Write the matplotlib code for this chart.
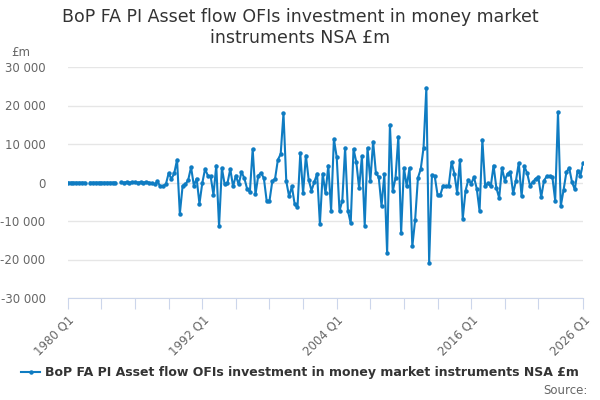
import matplotlib
matplotlib.use("Agg")
import matplotlib.pyplot as plt
import matplotlib.ticker as ticker
import numpy as np

# quarterly series, 1980 Q1 .. 2026 Q1, £m
start_year = 1980
nan = np.nan
values = [
    0, 0, 0, 0, 0, 0, 0, nan,
    0, 0, 0, 0, 0, 0, 0, 0, 0, 0, nan,
    100, 0, 100, 0, 100, 100, 0, 100, 0, 100, 0,
    -200, -500, 300, -1000, -900, -500, 2400, 900, 2400, 5900, -8100,
    -800, -500, 700, 4000, -800, 1000, -5500, -200, 3500, 1800,
    1600, -3200, 4400, -11400, 3800, -500, -200, 3500, -1000, 1800,
    -500, 2700, 1200, -1600, -2500, 8700, -3100, 1800, 2500, 1100,
    -4800, -4800, 300, 1000, 5900, 7400, 18000, 300, -3600, -1000,
    -5700, -6400, 7600, -2800, 7000, 700, -2100, 100, 2300, -10700,
    2300, -2800, 4400, -7300, 11300, 6600, -7400, -4700, 9000, -7300,
    -10600, 8700, 5300, -1500, 6800, -11200, 9000, 300, 10600, 2400,
    1400, -6100, 2100, -18400, 15000, -2300, 1200, 11900, -13100, 3800,
    -1000, 3800, -16600, -9700, 1200, 3500, 9000, 24600, -20800, 2000,
    1600, -3200, -3200, -800, -1000, -800, 5300, 2300, -2700, 5900,
    -9400, -2100, 700, -300, 1400, -1600, -7400, 11100, -1000, -200,
    -1000, 4400, -1400, -4000, 3800, 500, 2300, 2700, -2800, 500,
    5100, -3600, 4200, 2400, -800, 100, 1000, 1400, -3800, 500,
    1600, 1600, 1400, -4700, 18300, -6100, -1900, 2700, 3800, 100,
    -1800, 3100, 1800, 5100,
]
quarters = ["%d Q%d" % (start_year + i // 4, i % 4 + 1) for i in range(len(values))]
series_name = "BoP FA PI Asset flow OFIs investment in money market instruments NSA £m"
title = "BoP FA PI Asset flow OFIs investment in money market\ninstruments NSA £m"

blue = "#0f7cc2"
grey = "#666666"

fig = plt.figure(figsize=(6, 4), dpi=100)
ax = fig.add_axes([0.113, 0.255, 0.859, 0.5775])

x = np.arange(len(values))
ax.plot(x, values, color=blue, linewidth=1.5, marker="o", markersize=2.2,
        label=series_name)

ax.set_xlim(0, len(values) - 1)
ax.set_ylim(-30000, 30000)
ax.yaxis.set_major_locator(ticker.MultipleLocator(10000))
ax.yaxis.set_major_formatter(ticker.FuncFormatter(
    lambda v, p: "{:,}".format(int(v)).replace(",", " ")))
ax.grid(axis="y", color="#e6e6e6", linewidth=1)
ax.set_axisbelow(True)

xt = list(range(0, len(values) - 12, 12)) + [len(values) - 1]
ax.set_xticks(xt)
ax.set_xticklabels([quarters[i] if (i % 48 == 0 or i == len(values) - 1) else "" for i in xt])
ax.tick_params(axis="x", length=8, color="#ccd6eb", labelcolor=grey, labelsize=8.5, pad=3)
ax.tick_params(axis="y", length=0, labelcolor=grey, labelsize=8.5, pad=16)
plt.setp(ax.get_xticklabels(), rotation=45, ha="right", rotation_mode="anchor")

for s in ["top", "right", "left"]:
    ax.spines[s].set_visible(False)
ax.spines["bottom"].set_color("#ccd6eb")

fig.text(0.5, 0.931, title, ha="center", va="center", fontsize=12.5,
         color="#333333", linespacing=1.25)
fig.text(11 / 600, 1 - 53 / 400, "£m", fontsize=8.5, color=grey, va="center")
fig.text(0.98, 0.025, "Source:", ha="right", va="center", fontsize=8.5, color=grey)

fig.legend(loc="center", bbox_to_anchor=(0.5, 0.068), frameon=False,
           prop={"weight": "bold", "size": 9}, handlelength=1.5,
           handletextpad=0.4, labelcolor="#333333")

fig.savefig("out.png", dpi=100)
